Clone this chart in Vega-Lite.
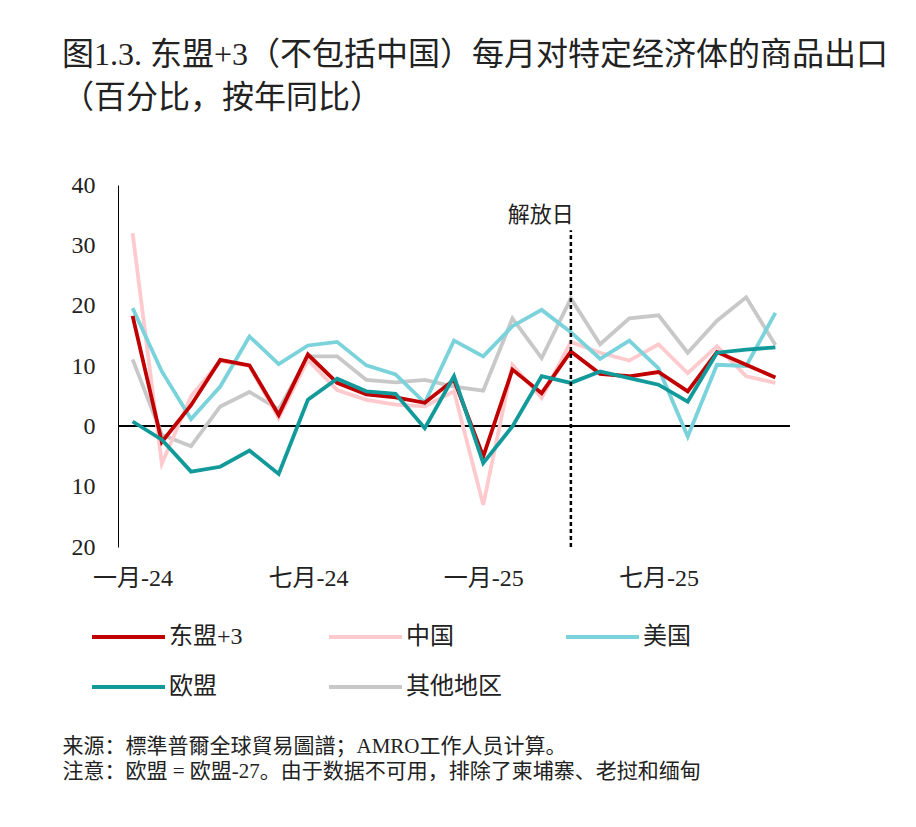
{
  "$schema": "https://vega.github.io/schema/vega-lite/v6.json",
  "autosize": {"type": "none"},
  "padding": {"left": 118, "top": 185, "right": 126, "bottom": 280},
  "width": 672,
  "height": 362,
  "background": "white",
  "config": {"font": "Liberation Serif, Noto Sans CJK SC", "view": {"stroke": null}},
  "title": {
    "text": ["图1.3. 东盟+3（不包括中国）每月对特定经济体的商品出口", "（百分比，按年同比）"],
    "anchor": "start", "frame": "group", "dx": -56, "offset": 58,
    "fontSize": 32, "lineHeight": 43, "fontWeight": "normal", "color": "#222222",
    "font": "Liberation Serif, Noto Sans CJK SC"
  },
  "datasets": {
    "series": [
      {"s": "其他地区", "m": "一月-24", "v": 11.1}, {"s": "其他地区", "m": "二月-24", "v": -1.4}, {"s": "其他地区", "m": "三月-24", "v": -3.3}, {"s": "其他地区", "m": "四月-24", "v": 3.3}, {"s": "其他地区", "m": "五月-24", "v": 5.7}, {"s": "其他地区", "m": "六月-24", "v": 2.8}, {"s": "其他地区", "m": "七月-24", "v": 11.6}, {"s": "其他地区", "m": "八月-24", "v": 11.6}, {"s": "其他地区", "m": "九月-24", "v": 7.7}, {"s": "其他地区", "m": "十月-24", "v": 7.3}, {"s": "其他地区", "m": "十一月-24", "v": 7.7}, {"s": "其他地区", "m": "十二月-24", "v": 6.6}, {"s": "其他地区", "m": "一月-25", "v": 5.9}, {"s": "其他地区", "m": "二月-25", "v": 17.9}, {"s": "其他地区", "m": "三月-25", "v": 11.3}, {"s": "其他地区", "m": "四月-25", "v": 21.2}, {"s": "其他地区", "m": "五月-25", "v": 13.6}, {"s": "其他地区", "m": "六月-25", "v": 17.9}, {"s": "其他地区", "m": "七月-25", "v": 18.4}, {"s": "其他地区", "m": "八月-25", "v": 12.2}, {"s": "其他地区", "m": "九月-25", "v": 17.5}, {"s": "其他地区", "m": "十月-25", "v": 21.4}, {"s": "其他地区", "m": "十一月-25", "v": 13.5},
      {"s": "中国", "m": "一月-24", "v": 32.0}, {"s": "中国", "m": "二月-24", "v": -6.2}, {"s": "中国", "m": "三月-24", "v": 5.0}, {"s": "中国", "m": "四月-24", "v": 10.8}, {"s": "中国", "m": "五月-24", "v": 10.0}, {"s": "中国", "m": "六月-24", "v": 1.4}, {"s": "中国", "m": "七月-24", "v": 11.0}, {"s": "中国", "m": "八月-24", "v": 6.0}, {"s": "中国", "m": "九月-24", "v": 4.4}, {"s": "中国", "m": "十月-24", "v": 3.6}, {"s": "中国", "m": "十一月-24", "v": 3.3}, {"s": "中国", "m": "十二月-24", "v": 5.8}, {"s": "中国", "m": "一月-25", "v": -13.0}, {"s": "中国", "m": "二月-25", "v": 10.2}, {"s": "中国", "m": "三月-25", "v": 4.7}, {"s": "中国", "m": "四月-25", "v": 14.0}, {"s": "中国", "m": "五月-25", "v": 12.2}, {"s": "中国", "m": "六月-25", "v": 10.9}, {"s": "中国", "m": "七月-25", "v": 13.6}, {"s": "中国", "m": "八月-25", "v": 8.8}, {"s": "中国", "m": "九月-25", "v": 13.3}, {"s": "中国", "m": "十月-25", "v": 8.3}, {"s": "中国", "m": "十一月-25", "v": 7.2},
      {"s": "美国", "m": "一月-24", "v": 19.6}, {"s": "美国", "m": "二月-24", "v": 9.1}, {"s": "美国", "m": "三月-24", "v": 1.2}, {"s": "美国", "m": "四月-24", "v": 6.6}, {"s": "美国", "m": "五月-24", "v": 14.9}, {"s": "美国", "m": "六月-24", "v": 10.3}, {"s": "美国", "m": "七月-24", "v": 13.4}, {"s": "美国", "m": "八月-24", "v": 14.0}, {"s": "美国", "m": "九月-24", "v": 10.1}, {"s": "美国", "m": "十月-24", "v": 8.6}, {"s": "美国", "m": "十一月-24", "v": 3.9}, {"s": "美国", "m": "十二月-24", "v": 14.2}, {"s": "美国", "m": "一月-25", "v": 11.6}, {"s": "美国", "m": "二月-25", "v": 16.6}, {"s": "美国", "m": "三月-25", "v": 19.3}, {"s": "美国", "m": "四月-25", "v": 15.6}, {"s": "美国", "m": "五月-25", "v": 11.2}, {"s": "美国", "m": "六月-25", "v": 14.2}, {"s": "美国", "m": "七月-25", "v": 9.6}, {"s": "美国", "m": "八月-25", "v": -1.7}, {"s": "美国", "m": "九月-25", "v": 10.2}, {"s": "美国", "m": "十月-25", "v": 10.0}, {"s": "美国", "m": "十一月-25", "v": 18.8},
      {"s": "东盟+3", "m": "一月-24", "v": 18.3}, {"s": "东盟+3", "m": "二月-24", "v": -2.6}, {"s": "东盟+3", "m": "三月-24", "v": 3.5}, {"s": "东盟+3", "m": "四月-24", "v": 11.0}, {"s": "东盟+3", "m": "五月-24", "v": 10.1}, {"s": "东盟+3", "m": "六月-24", "v": 1.9}, {"s": "东盟+3", "m": "七月-24", "v": 11.9}, {"s": "东盟+3", "m": "八月-24", "v": 7.2}, {"s": "东盟+3", "m": "九月-24", "v": 5.3}, {"s": "东盟+3", "m": "十月-24", "v": 4.8}, {"s": "东盟+3", "m": "十一月-24", "v": 3.9}, {"s": "东盟+3", "m": "十二月-24", "v": 7.7}, {"s": "东盟+3", "m": "一月-25", "v": -5.0}, {"s": "东盟+3", "m": "二月-25", "v": 9.4}, {"s": "东盟+3", "m": "三月-25", "v": 5.5}, {"s": "东盟+3", "m": "四月-25", "v": 12.4}, {"s": "东盟+3", "m": "五月-25", "v": 8.7}, {"s": "东盟+3", "m": "六月-25", "v": 8.3}, {"s": "东盟+3", "m": "七月-25", "v": 9.0}, {"s": "东盟+3", "m": "八月-25", "v": 5.8}, {"s": "东盟+3", "m": "九月-25", "v": 12.3}, {"s": "东盟+3", "m": "十月-25", "v": 10.2}, {"s": "东盟+3", "m": "十一月-25", "v": 8.1},
      {"s": "欧盟", "m": "一月-24", "v": 0.8}, {"s": "欧盟", "m": "二月-24", "v": -2.2}, {"s": "欧盟", "m": "三月-24", "v": -7.5}, {"s": "欧盟", "m": "四月-24", "v": -6.7}, {"s": "欧盟", "m": "五月-24", "v": -4.0}, {"s": "欧盟", "m": "六月-24", "v": -7.9}, {"s": "欧盟", "m": "七月-24", "v": 4.4}, {"s": "欧盟", "m": "八月-24", "v": 7.9}, {"s": "欧盟", "m": "九月-24", "v": 5.8}, {"s": "欧盟", "m": "十月-24", "v": 5.4}, {"s": "欧盟", "m": "十一月-24", "v": -0.3}, {"s": "欧盟", "m": "十二月-24", "v": 8.3}, {"s": "欧盟", "m": "一月-25", "v": -6.1}, {"s": "欧盟", "m": "二月-25", "v": 0.0}, {"s": "欧盟", "m": "三月-25", "v": 8.3}, {"s": "欧盟", "m": "四月-25", "v": 7.2}, {"s": "欧盟", "m": "五月-25", "v": 9.1}, {"s": "欧盟", "m": "六月-25", "v": 8.0}, {"s": "欧盟", "m": "七月-25", "v": 6.9}, {"s": "欧盟", "m": "八月-25", "v": 4.1}, {"s": "欧盟", "m": "九月-25", "v": 12.2}, {"s": "欧盟", "m": "十月-25", "v": 12.7}, {"s": "欧盟", "m": "十一月-25", "v": 13.1}
    ],
    "events": [{"m": "四月-25", "label": "解放日", "lo": -20, "hi": 32.5, "ty": 33.8}]
  },
  "layer": [
    {
      "data": {"name": "series"},
      "mark": {"type": "rule", "color": "#000000", "strokeWidth": 1},
      "encoding": {"y": {"datum": 0, "type": "quantitative"}}
    },
    {
      "data": {"name": "series"},
      "mark": {"type": "line", "strokeWidth": 3.8, "strokeJoin": "miter"},
      "encoding": {
        "x": {
          "field": "m", "type": "ordinal",
          "scale": {"type": "point", "padding": 0.5, "domain": ["一月-24", "二月-24", "三月-24", "四月-24", "五月-24", "六月-24", "七月-24", "八月-24", "九月-24", "十月-24", "十一月-24", "十二月-24", "一月-25", "二月-25", "三月-25", "四月-25", "五月-25", "六月-25", "七月-25", "八月-25", "九月-25", "十月-25", "十一月-25"]},
          "axis": {
            "values": ["一月-24", "七月-24", "一月-25", "七月-25"],
            "labelAngle": 0, "domain": false, "ticks": false, "tickSize": 0, "grid": false,
            "labelFontSize": 24, "labelPadding": 19, "labelColor": "#222222",
            "title": ["来源：標準普爾全球貿易圖譜；AMRO工作人员计算。", "注意：欧盟 = 欧盟-27。由于数据不可用，排除了柬埔寨、老挝和缅甸"],
            "titleAnchor": "start", "titleAlign": "left", "titleX": -56, "titleY": 188, "titleBaseline": "top",
            "titleFontSize": 21, "titleFontWeight": "normal", "titleLineHeight": 25, "titleColor": "#222222"
          }
        },
        "y": {
          "field": "v", "type": "quantitative",
          "scale": {"domain": [-20, 40], "nice": false, "zero": false},
          "axis": {
            "values": [-20, -10, 0, 10, 20, 30, 40],
            "labelExpr": "format(abs(datum.value), 'd')",
            "domain": true, "domainColor": "#000000", "domainWidth": 1,
            "ticks": false, "tickSize": 0, "grid": false,
            "labelFontSize": 24, "labelPadding": 23, "labelColor": "#222222", "title": null
          }
        },
        "color": {
          "field": "s", "type": "nominal",
          "scale": {"domain": ["东盟+3", "中国", "美国", "欧盟", "其他地区"], "range": ["#C00000", "#FFCACD", "#7AD3DB", "#12999A", "#C8C8C8"]},
          "legend": {
            "orient": "none", "legendX": -28, "legendY": 440, "direction": "horizontal", "columns": 3,
            "gridAlign": "all", "columnPadding": 62, "rowPadding": 26, "clipHeight": 24,
            "symbolType": "stroke", "symbolSize": 5329, "symbolStrokeWidth": 4,
            "labelFontSize": 24, "labelOffset": 2, "labelColor": "#222222", "labelLimit": 300, "title": null
          }
        },
        "detail": {"field": "s"}
      }
    },
    {
      "data": {"name": "events"},
      "mark": {"type": "rule", "color": "#000000", "strokeWidth": 2.5, "strokeDash": [4, 3]},
      "encoding": {
        "x": {"field": "m", "type": "ordinal"},
        "y": {"field": "lo", "type": "quantitative"},
        "y2": {"field": "hi"}
      }
    },
    {
      "data": {"name": "events"},
      "mark": {"type": "text", "align": "right", "baseline": "alphabetic", "fontSize": 22, "dx": 3, "color": "#222222"},
      "encoding": {
        "x": {"field": "m", "type": "ordinal"},
        "y": {"field": "ty", "type": "quantitative"},
        "text": {"field": "label"}
      }
    }
  ]
}
